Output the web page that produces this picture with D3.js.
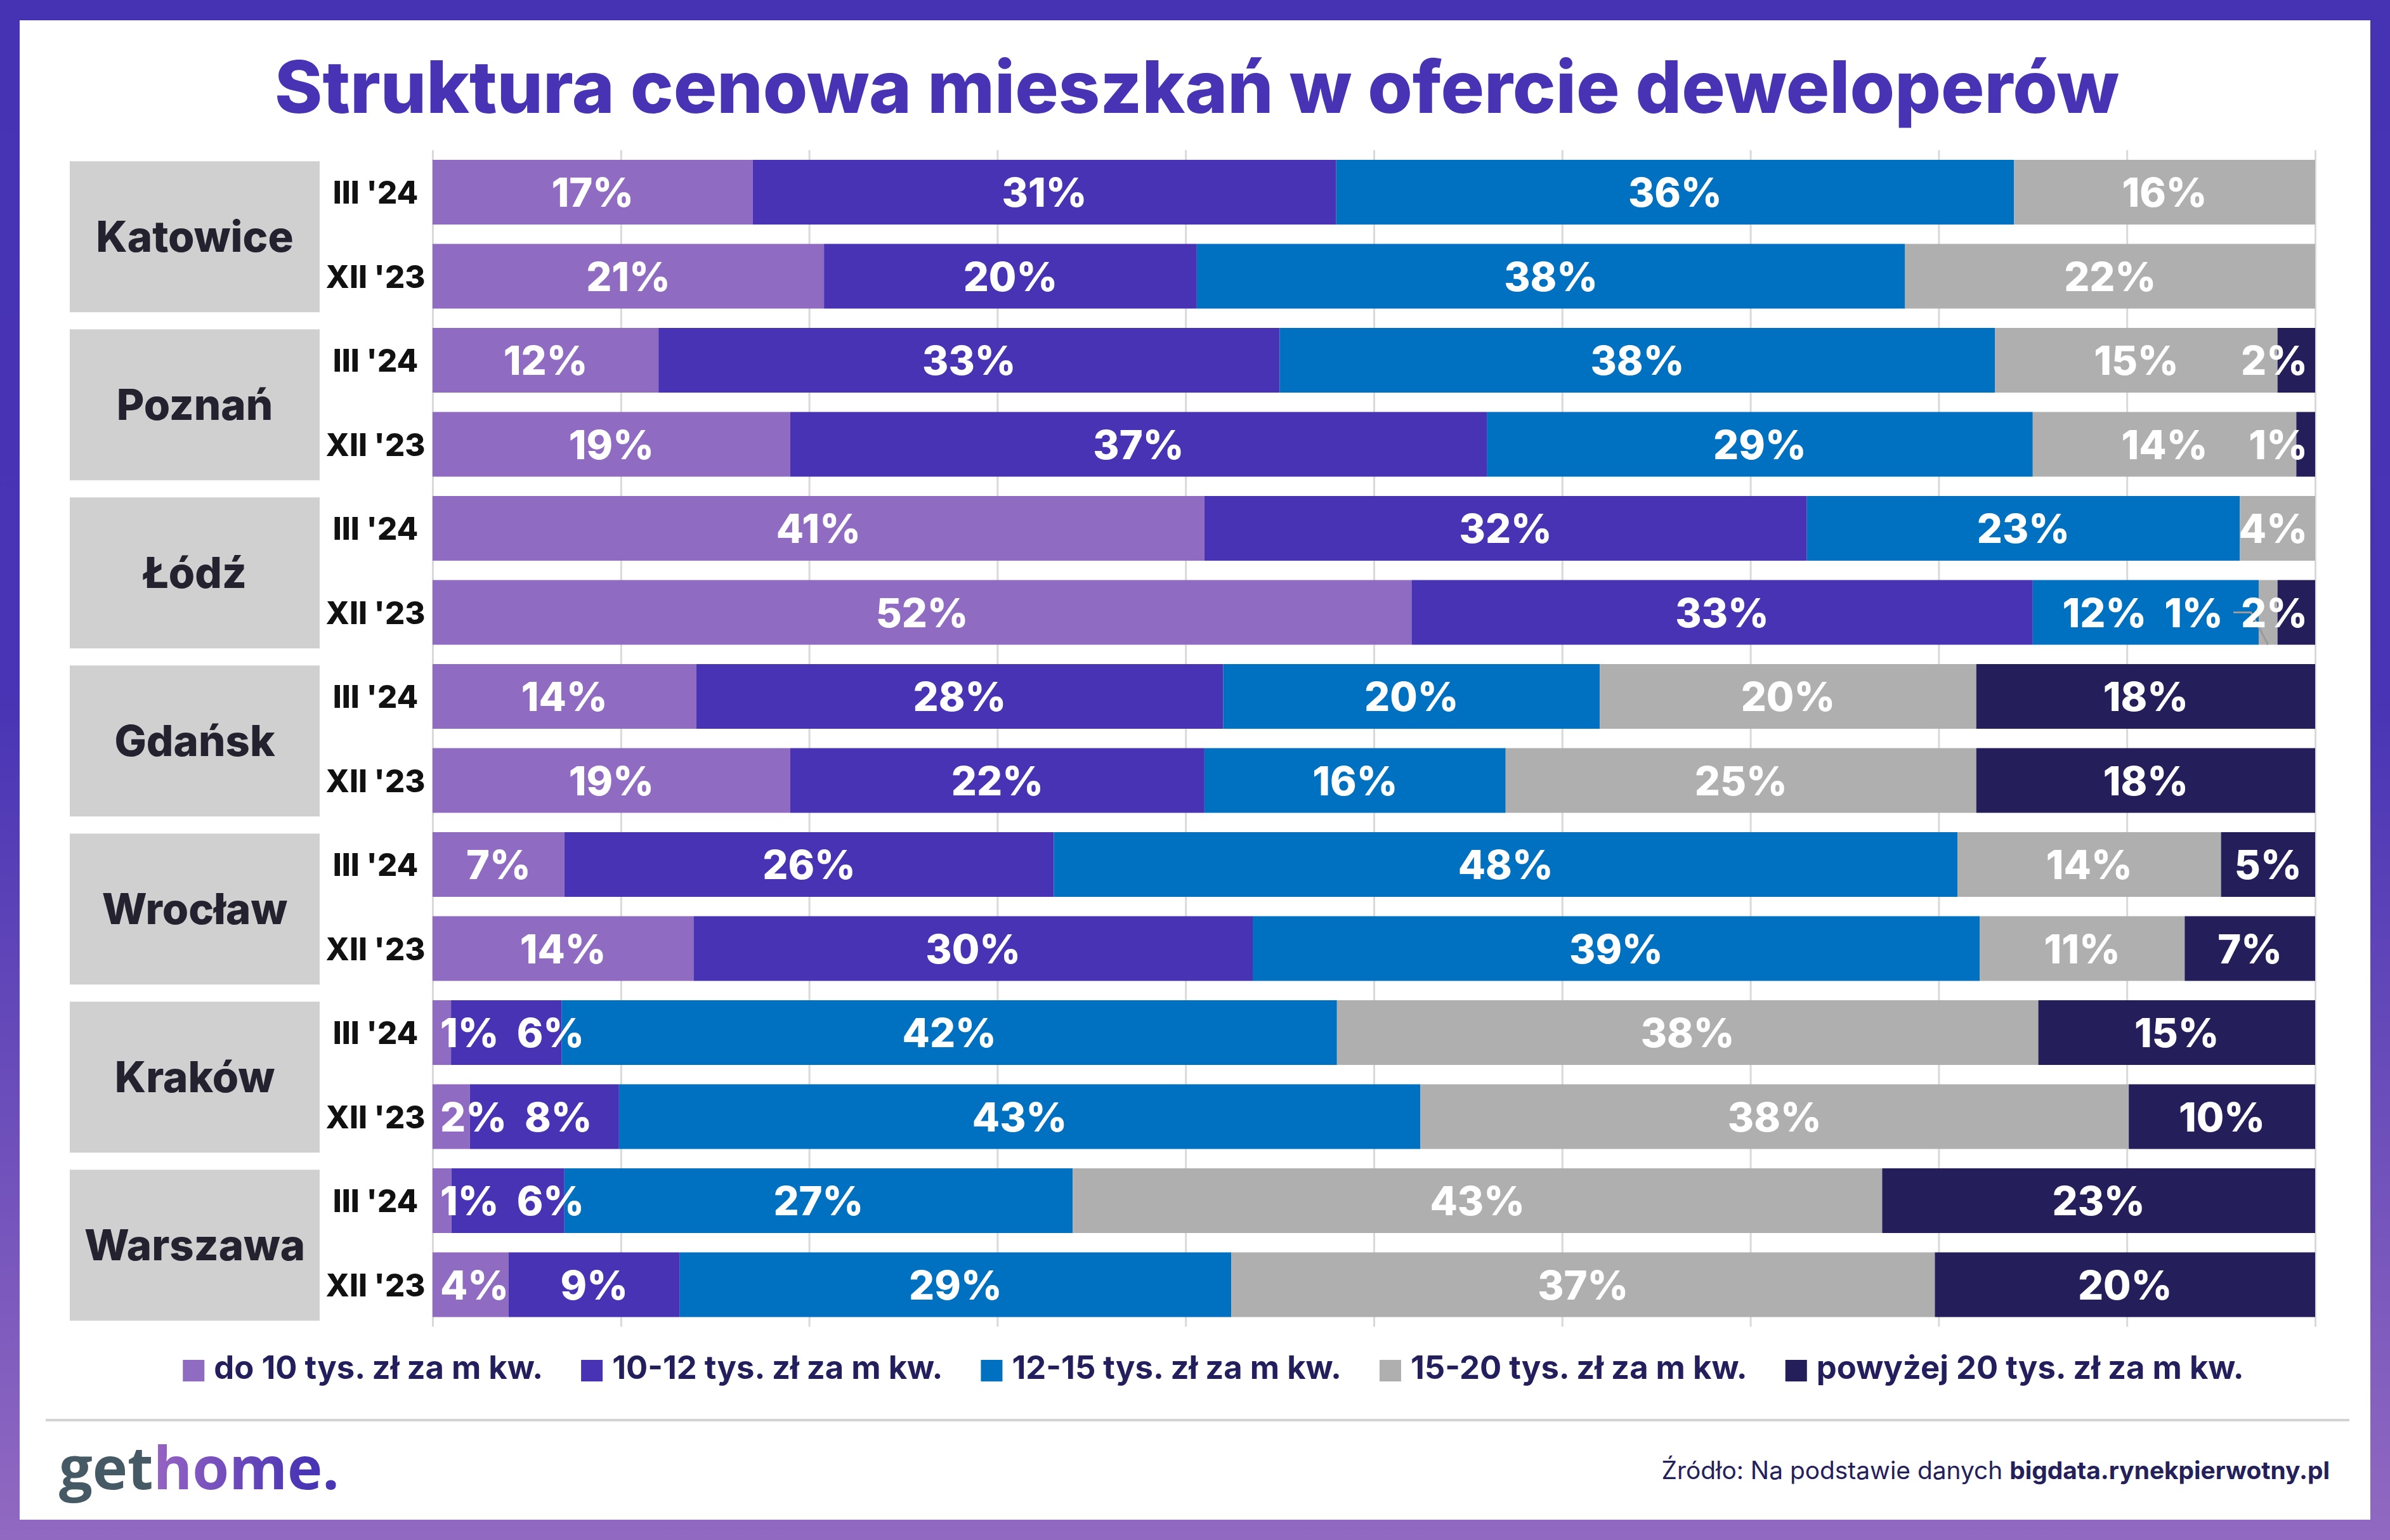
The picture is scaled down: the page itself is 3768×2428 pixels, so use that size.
<!DOCTYPE html>
<html><head><meta charset="utf-8">
<script src="https://cdn.jsdelivr.net/npm/d3@7"></script>
<style>html,body{margin:0;padding:0;background:#fff;} svg{display:block;}</style>
</head><body>
<script>
// ---------- DATA ----------
const cities = ["Katowice", "Poznań", "Łódź", "Gdańsk", "Wrocław", "Kraków", "Warszawa"];
const periods = ["III '24", "XII '23"];
const seriesNames = ["do 10 tys. zł za m kw.", "10-12 tys. zł za m kw.", "12-15 tys. zł za m kw.", "15-20 tys. zł za m kw.", "powyżej 20 tys. zł za m kw."];
// values per row: Katowice III'24, XII'23, Poznań III'24, XII'23, ...
const do10   = [17, 21, 12, 19, 41, 52, 14, 19,  7, 14,  1,  2,  1,  4];
const s10_12 = [31, 20, 33, 37, 32, 33, 28, 22, 26, 30,  6,  8,  6,  9];
const s12_15 = [36, 38, 38, 29, 23, 12, 20, 16, 48, 39, 42, 43, 27, 29];
const s15_20 = [16, 22, 15, 14,  4,  1, 20, 25, 14, 11, 38, 38, 43, 37];
const over20 = [ 0,  0,  2,  1,  0,  2, 18, 18,  5,  7, 15, 10, 23, 20];
const titleText = "Struktura cenowa mieszkań w ofercie deweloperów";
const sourceRegular = "Źródło: Na podstawie danych ";
const sourceBold = "bigdata.rynekpierwotny.pl";

// ---------- STYLE ----------
const colors = ["#8f6bc1", "#4733b3", "#0070c0", "#afafaf", "#241f5a"];
const W = 3768, H = 2428;

const seriesValues = [do10, s10_12, s12_15, s15_20, over20];
const keys = seriesNames;
const rows = [];
cities.forEach(c => periods.forEach(p => {
  const i = rows.length;
  const r = {key: c + "|" + p, city: c, period: p};
  keys.forEach((k, j) => r[k] = seriesValues[j][i]);
  rows.push(r);
}));

const svg = d3.select("body").append("svg").attr("width", W).attr("height", H);
const defs = svg.append("defs");
const fg = defs.append("linearGradient").attr("id", "frame").attr("x1", 0).attr("y1", 0).attr("x2", 0).attr("y2", 1);
fg.append("stop").attr("offset", "0%").attr("stop-color", "#4633b3");
fg.append("stop").attr("offset", "45%").attr("stop-color", "#4834b4");
fg.append("stop").attr("offset", "100%").attr("stop-color", "#9169c1");
const lg = defs.append("linearGradient").attr("id", "logoGrad").attr("gradientUnits", "userSpaceOnUse")
  .attr("x1", 250).attr("y1", 0).attr("x2", 480).attr("y2", 0);
lg.append("stop").attr("offset", "0%").attr("stop-color", "#9462c2");
lg.append("stop").attr("offset", "100%").attr("stop-color", "#4a35b5");

svg.append("rect").attr("width", W).attr("height", H).attr("fill", "url(#frame)");
svg.append("rect").attr("x", 31).attr("y", 32).attr("width", 3706).attr("height", 2364).attr("fill", "#fff");

function fit(sel, target) {
  const fs = +sel.attr("font-size");
  const w = sel.node().getComputedTextLength();
  const nf = fs * target / w;
  sel.attr("font-size", nf);
  return nf;
}

// Title
const title = svg.append("text").attr("x", 1887).attr("y", 178).attr("text-anchor", "middle")
  .attr("font-family", "Inter").attr("font-weight", 800).attr("font-size", 112)
  .attr("fill", "#4733b3").text(titleText);
fit(title, 2908);

// Scales
const x = d3.scaleLinear().domain([0, 1]).range([682, 3650]);
const y = d3.scaleBand().domain(rows.map(r => r.key)).range([236.75, 2091.75]).paddingInner(0.2302).paddingOuter(0.1151);
const bw = y.bandwidth();

// Gridlines via axis
const gridH = y.range()[1] - y.range()[0];
const grid = svg.append("g").attr("transform", `translate(0,${y.range()[0]})`)
  .call(d3.axisBottom(x).ticks(10).tickSize(gridH).tickFormat(""));
grid.select(".domain").remove();
grid.selectAll(".tick line").attr("stroke", "#d9d9d9").attr("stroke-width", 3);

// City boxes
cities.forEach(c => {
  const ks = periods.map(p => c + "|" + p);
  const cy = (y(ks[0]) + y(ks[ks.length - 1]) + bw) / 2 + 4;
  svg.append("rect").attr("x", 110).attr("y", cy - 119).attr("width", 394).attr("height", 238).attr("fill", "#d0d0d0");
  svg.append("text").attr("x", 307).attr("y", cy + 24).attr("text-anchor", "middle")
    .attr("font-family", "Inter").attr("font-weight", 800).attr("font-size", 67).attr("fill", "#23222e").text(c);
});

// Period labels
svg.append("g").selectAll("text").data(rows).join("text")
  .attr("x", 592).attr("y", d => y(d.key) + bw / 2 + 18).attr("text-anchor", "middle")
  .attr("font-family", "Inter").attr("font-weight", 800).attr("font-size", 49).attr("fill", "#111")
  .text(d => d.period);

// Stacked bars
const stacked = d3.stack().keys(keys).offset(d3.stackOffsetExpand)(rows);
svg.append("g").selectAll("g").data(stacked).join("g").attr("fill", (d, i) => colors[i])
  .selectAll("rect").data(d => d).join("rect")
  .attr("x", d => x(d[0])).attr("y", d => y(d.data.key))
  .attr("width", d => x(d[1]) - x(d[0])).attr("height", bw);

// Value labels with collision avoidance
const labG = svg.append("g");
const PAD = 12, GAP = 28;
rows.forEach((r, ri) => {
  const cy = y(r.key) + bw / 2;
  const labs = [];
  stacked.forEach((layer, li) => {
    const d = layer[ri];
    const v = r[keys[li]];
    if (!(v > 0)) return;
    const t = labG.append("text").attr("text-anchor", "middle")
      .attr("font-family", "Inter").attr("font-weight", 800).attr("font-size", 63)
      .attr("fill", "#fff").attr("y", cy + 23).text(v + "%");
    const w = t.node().getComputedTextLength();
    labs.push({t, w, x0: x(d[0]), x1: x(d[1]), c: (x(d[0]) + x(d[1])) / 2});
  });
  const bStart = x(0), bEnd = x(1);
  let prevR = -Infinity;
  labs.forEach(l => {
    l.x = Math.max(l.c, prevR + GAP + l.w / 2, bStart + PAD + l.w / 2);
    prevR = l.x + l.w / 2;
  });
  let nextL = Infinity;
  for (let i = labs.length - 1; i >= 0; i--) {
    const l = labs[i];
    l.x = Math.min(l.x, nextL - GAP - l.w / 2, bEnd - PAD - l.w / 2);
    nextL = l.x - l.w / 2;
  }
  labs.forEach(l => {
    l.t.attr("x", l.x);
    if (l.x < l.x0 - 50) {
      const sc = l.c;
      const lx = l.x + l.w / 2 + 16;
      labG.insert("polyline", ":first-child")
        .attr("points", `${lx},${cy} ${sc - 27},${cy} ${sc},${y(r.key) + bw}`)
        .attr("fill", "none").attr("stroke", "#9a9a9a").attr("stroke-width", 3);
    }
  });
});

// Legend
const leg = svg.append("g");
// determine font size so the first entry matches the reference width
const probe = svg.append("text").attr("font-family", "Inter").attr("font-weight", 700).attr("font-size", 46).text(seriesNames[0]);
const legFs = fit(probe, 519);
probe.remove();
let lx = 0;
seriesNames.forEach((n, i) => {
  const g = leg.append("g").attr("transform", `translate(${lx},0)`);
  g.append("rect").attr("x", 0).attr("y", 2144).attr("width", 34).attr("height", 34).attr("fill", colors[i]);
  const t = g.append("text").attr("x", 49).attr("y", 2174)
    .attr("font-family", "Inter").attr("font-weight", 700).attr("font-size", legFs).attr("fill", "#231f5c").text(n);
  const w = t.node().getComputedTextLength();
  lx += 49 + w + 60;
});
const legW = lx - 60;
leg.attr("transform", `translate(${1913 - legW / 2},0)`);

// Separator
svg.append("line").attr("x1", 72).attr("x2", 3704).attr("y1", 2239).attr("y2", 2239)
  .attr("stroke", "#d3d3d3").attr("stroke-width", 4);

// Logo
const logo = svg.append("text").attr("x", 93).attr("y", 2348)
  .attr("font-family", "Open Sans").attr("font-weight", 700).attr("font-size", 98);
logo.append("tspan").attr("fill", "#455a64").text("get");
logo.append("tspan").attr("fill", "url(#logoGrad)").text("home");
logo.append("tspan").attr("fill", "#4a35b5").text(".");
fit(logo, 442);

// Source
const src = svg.append("text").attr("x", 3673).attr("y", 2332).attr("text-anchor", "end")
  .attr("font-family", "Inter").attr("font-size", 35).attr("fill", "#24205a");
src.append("tspan").attr("font-weight", 400).text(sourceRegular);
src.append("tspan").attr("font-weight", 700).text(sourceBold);
fit(src, 1054);
</script>
</body></html>
